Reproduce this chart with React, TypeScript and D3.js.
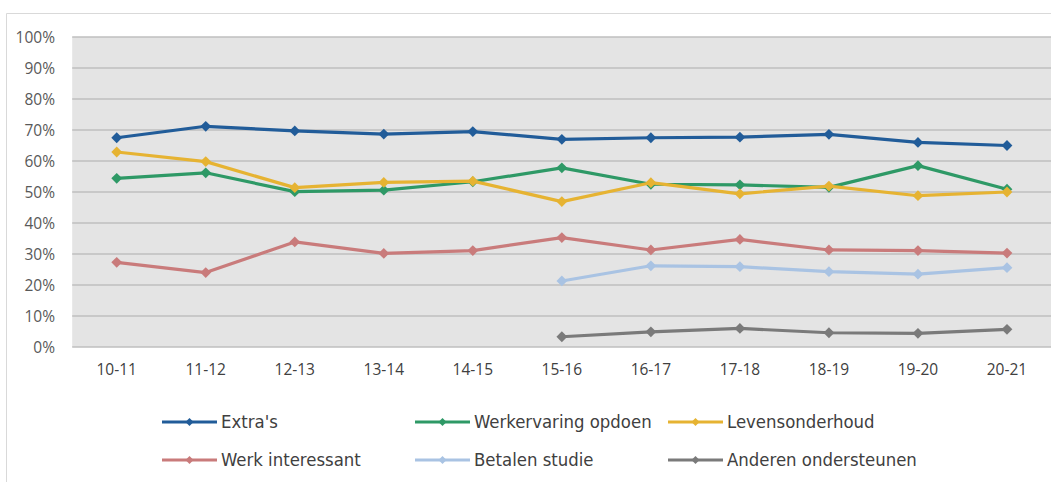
import React from "react";
import * as d3 from "d3";

const categories = ["10-11", "11-12", "12-13", "13-14", "14-15", "15-16", "16-17", "17-18", "18-19", "19-20", "20-21"];
const yTicks = [0, 10, 20, 30, 40, 50, 60, 70, 80, 90, 100];

const extras = [67.5, 71.2, 69.7, 68.7, 69.5, 67.0, 67.5, 67.7, 68.6, 66.0, 65.0];
const werkervaring = [54.4, 56.2, 50.1, 50.6, 53.3, 57.8, 52.5, 52.3, 51.5, 58.5, 50.9];
const levensonderhoud = [62.9, 59.8, 51.4, 53.1, 53.5, 46.9, 53.0, 49.4, 51.9, 48.8, 50.0];
const werkInteressant = [27.3, 24.0, 33.9, 30.2, 31.1, 35.3, 31.3, 34.7, 31.3, 31.1, 30.3];
const betalenStudie = [null, null, null, null, null, 21.3, 26.2, 25.9, 24.3, 23.5, 25.6];
const anderen = [null, null, null, null, null, 3.3, 4.9, 6.0, 4.6, 4.4, 5.7];

const seriesNames = ["Extra's", "Werkervaring opdoen", "Levensonderhoud", "Werk interessant", "Betalen studie", "Anderen ondersteunen"];
const seriesValues = [extras, werkervaring, levensonderhoud, werkInteressant, betalenStudie, anderen];
const seriesColors = ["#215C99", "#2E9966", "#E6B332", "#C97B7B", "#A9C3E3", "#7A7A7A"];

export default function App() {
  const W = 1051, H = 482;
  const x = d3.scaleBand<string>().domain(categories).range([72.2, 1051.5]);
  const y = d3.scaleLinear().domain([0, 100]).range([347, 37]);
  const cx = (c: string) => (x(c) as number) + x.bandwidth() / 2;
  const line = d3
    .line<number | null>()
    .defined((d) => d != null)
    .x((_, i) => cx(categories[i]))
    .y((d) => y(d as number));
  const diamond = (s: number) => `M0,${-s}L${s},0L0,${s}L${-s},0Z`;

  const legendCols = [162, 415, 668];
  const legendRows = [422, 460];

  return (
    <svg width={W} height={H} style={{ position: "absolute", left: 0, top: 0 }}>
      <rect x={0} y={0} width={W} height={H} fill="#fff" />
      <path d={`M6.5,${H}V13.5H${W}`} fill="none" stroke="#d9d9d9" strokeWidth={1} />
      <rect x={72.2} y={37} width={W - 72.2} height={310} fill="#e4e4e4" />
      {yTicks.map((t) => (
        <g key={t}>
          <line x1={72.2} x2={W} y1={y(t)} y2={y(t)} stroke="#bfbfbf" strokeWidth={1.6} />
          <text
            x={55}
            y={y(t) + 2}
            textAnchor="end"
            dominantBaseline="middle"
            fontFamily="'Open Sans', sans-serif"
            fontSize={15.5}
            fill="#595959"
          >
            {t}%
          </text>
        </g>
      ))}
      {categories.map((c) => (
        <text
          key={c}
          x={cx(c)}
          y={371}
          textAnchor="middle"
          dominantBaseline="middle"
          fontFamily="'Open Sans', sans-serif"
          fontSize={15.5}
          fill="#404040"
        >
          {c}
        </text>
      ))}
      {seriesValues.map((vals, si) => (
        <g key={si}>
          <path d={line(vals) || ""} fill="none" stroke={seriesColors[si]} strokeWidth={3.2} strokeLinejoin="round" />
          {vals.map((v, i) =>
            v == null ? null : (
              <path
                key={i}
                d={diamond(5.4)}
                transform={`translate(${cx(categories[i])},${y(v)})`}
                fill={seriesColors[si]}
              />
            )
          )}
        </g>
      ))}
      {seriesNames.map((n, i) => {
        const lx = legendCols[i % 3];
        const ly = legendRows[Math.floor(i / 3)];
        return (
          <g key={n}>
            <line x1={lx} x2={lx + 55} y1={ly} y2={ly} stroke={seriesColors[i]} strokeWidth={3.2} />
            <path d={diamond(4)} transform={`translate(${lx + 27.5},${ly})`} fill={seriesColors[i]} />
            <text
              x={lx + 59}
              y={ly + 1}
              dominantBaseline="middle"
              fontFamily="'DejaVu Sans Condensed', 'DejaVu Sans', sans-serif"
              fontStretch="condensed"
              fontSize={18.4}
              fill="#404040"
            >
              {n}
            </text>
          </g>
        );
      })}
    </svg>
  );
}
